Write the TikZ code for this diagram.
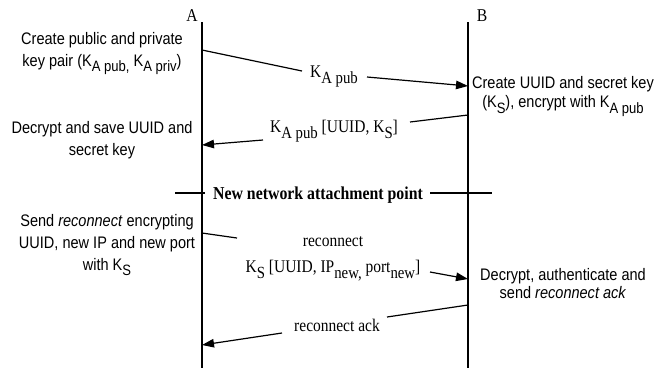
\documentclass[tikz,border=0pt]{standalone}
\usepackage{fontspec}
\setmainfont{Liberation Serif}[FakeStretch=0.87]
\setsansfont{Liberation Sans}[FakeStretch=0.87]
\usetikzlibrary{arrows.meta}
\newcommand{\sdn}[1]{\raisebox{-5pt}{\fontsize{15}{15}\selectfont #1}}
\newcommand{\rdn}[1]{\raisebox{-6pt}{\fontsize{17}{17}\selectfont #1}}
\begin{document}
\begin{tikzpicture}[x=1pt,y=-1pt,
  lifeline/.style={line width=1.2pt},
  msg/.style={line width=1.2pt},
  msgarrow/.style={line width=1.2pt,-{Triangle[length=12pt,width=8.5pt]}},
  note/.style={font=\fontsize{16.7}{22}\selectfont\sffamily, align=center, inner sep=0pt},
  lbl/.style={font=\fontsize{17.8}{18}\selectfont, inner sep=0pt, anchor=base},
  bold lbl/.style={font=\fontsize{18.2}{18}\selectfont\bfseries, inner sep=0pt, anchor=base},
  head/.style={font=\fontsize{18}{18}\selectfont, inner sep=0pt}]
\useasboundingbox (0,0) rectangle (657,368);

% lifelines
\node[head] (Alab) at (192,16) {A};
\node[head] (Blab) at (482,16) {B};
\coordinate (Atop) at (202,22);
\coordinate (Abot) at (202,368);
\coordinate (Btop) at (468,22);
\coordinate (Bbot) at (468,368);
\draw[lifeline] (Atop) -- (Abot);
\draw[lifeline] (Btop) -- (Bbot);

% notes
\node[note] (n1) at (102,54) {Create public and private\\key pair (K\sdn{A pub,} K\sdn{A priv})};
\node[note] (n2) at (102,140) {Decrypt and save UUID and\\secret key};
\node[note] (n3) at (107,245) {Send \textit{reconnect} encrypting\\UUID, new IP and new port\\with K\sdn{S}};
\node[note, font=\fontsize{16.7}{20}\selectfont\sffamily] (n4) at (563,96) {Create UUID and secret key\\(K\sdn{S}), encrypt with K\sdn{A pub}};
\node[note, font=\fontsize{16.7}{18}\selectfont\sffamily] (n5) at (563,284) {Decrypt, authenticate and\\send \textit{reconnect ack}};

% message 1
\coordinate (m1s) at (202,50);
\coordinate (m1a) at (302,71);
\node[lbl] (m1l) at (334,77) {K\rdn{A pub}};
\coordinate (m1b) at (367,77);
\coordinate (m1e) at (468,86);
\draw[msg] (m1s) -- (m1a);
\draw[msgarrow] (m1b) -- (m1e);

% message 2
\coordinate (m2s) at (468,115);
\coordinate (m2a) at (410,122);
\node[lbl] (m2l) at (334,132) {K\rdn{A pub} [UUID, K\rdn{S}]};
\coordinate (m2b) at (263,140);
\coordinate (m2e) at (202,145);
\draw[msg] (m2s) -- (m2a);
\draw[msgarrow] (m2b) -- (m2e);

% new network attachment point
\coordinate (w1) at (175,193);
\coordinate (w2) at (205,193);
\node[bold lbl] (wl) at (318,199) {New network attachment point};
\coordinate (w3) at (430,193);
\coordinate (w4) at (492,193);
\draw[msg] (w1) -- (w2);
\draw[msg] (w3) -- (w4);

% message 3
\coordinate (m3s) at (202,233);
\coordinate (m3a) at (237,238);
\node[lbl] (m3l) at (333,246) {reconnect};
\node[lbl] (m3k) at (333,272) {K\rdn{S} [UUID, IP\rdn{new,} port\rdn{new}]};
\coordinate (m3b) at (430,272);
\coordinate (m3e) at (468,279);
\draw[msg] (m3s) -- (m3a);
\draw[msgarrow] (m3b) -- (m3e);

% message 4
\coordinate (m4s) at (468,305);
\coordinate (m4a) at (387,317);
\node[lbl] (m4l) at (337,331) {reconnect ack};
\coordinate (m4b) at (282,333);
\coordinate (m4e) at (202,345);
\draw[msg] (m4s) -- (m4a);
\draw[msgarrow] (m4b) -- (m4e);
\end{tikzpicture}
\end{document}
